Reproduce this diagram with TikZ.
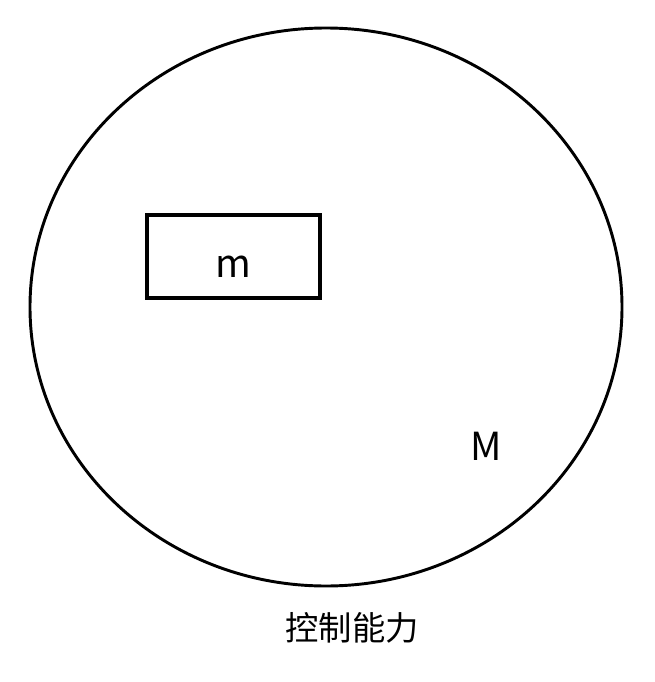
\documentclass[tikz,border=0pt]{standalone}
\usepackage{fontspec}
\setmainfont{Noto Sans CJK SC}
\usetikzlibrary{shapes.geometric}
\begin{document}
\begin{tikzpicture}[
    x=0.75pt, y=-0.75pt,
    region/.style={draw, line width=2.2pt},
    box/.style={draw, line width=3pt, minimum width=173*0.75pt, minimum height=83*0.75pt, inner sep=0pt},
    tag/.style={font=\fontsize{29}{29}\selectfont, inner sep=0pt},
    caption/.style={font=\fontsize{25}{25}\selectfont, inner sep=0pt}
]
\useasboundingbox (0,0) rectangle (654,682);

% Outer region
\node[region, ellipse, minimum width=592*0.75pt, minimum height=558*0.75pt, inner sep=0pt] (big) at (326,307) {};
\node[tag] (bigM) at (486,446) {M};

% Inner box
\node[box] (small) at (233.5,256) {};
\node[tag] (smallm) at (233,267) {m};

% Caption
\node[caption] (cap) at (352,628) {控制能力};

\end{tikzpicture}
\end{document}
